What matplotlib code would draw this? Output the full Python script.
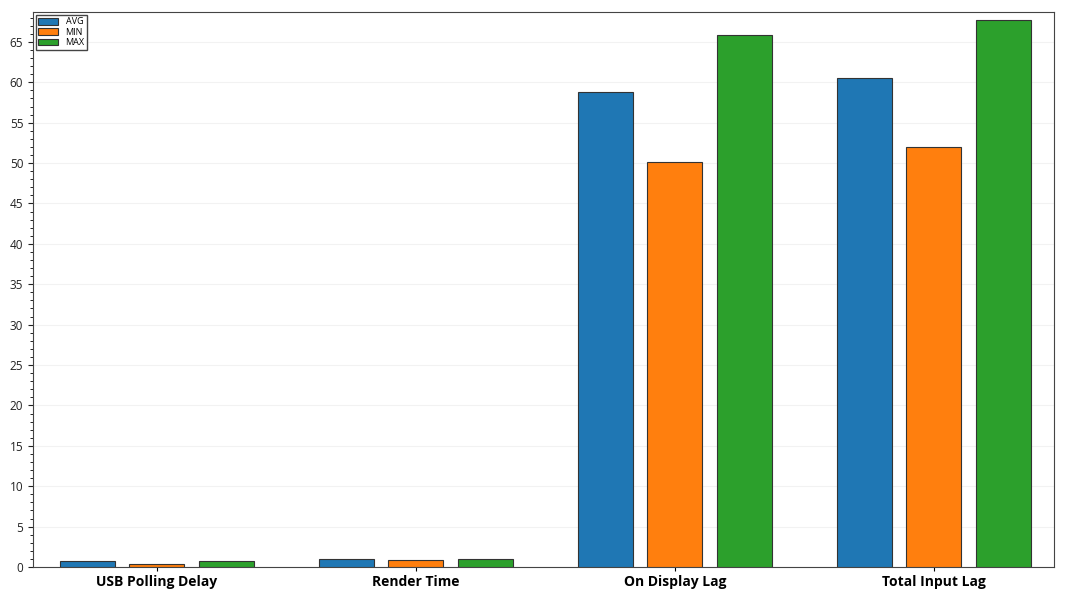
import numpy as np
import matplotlib
matplotlib.use("Agg")
import matplotlib.pyplot as plt
from matplotlib.ticker import MultipleLocator

plt.rcParams['font.family'] = ['Open Sans', 'DejaVu Sans']

categories = ["USB Polling Delay", "Render Time", "On Display Lag", "Total Input Lag"]
avg_vals = [0.75, 1.0, 58.8, 60.5]
min_vals = [0.35, 0.85, 50.1, 52.0]
max_vals = [0.75, 1.0, 65.9, 67.7]

fig = plt.figure(figsize=(10.66, 6.0), dpi=100)
ax = fig.add_axes([33/1066, 1 - 567/600, (1054-33)/1066, (567-12)/600])

x = np.arange(len(categories))
w = 0.212
off = 0.268
ax.bar(x - off, avg_vals, w, color="#1f77b4", edgecolor="#333333", linewidth=0.8, label="AVG", zorder=3)
ax.bar(x, min_vals, w, color="#ff7f0e", edgecolor="#333333", linewidth=0.8, label="MIN", zorder=3)
ax.bar(x + off, max_vals, w, color="#2ca02c", edgecolor="#333333", linewidth=0.8, label="MAX", zorder=3)

ax.set_xlim(-0.478, 3.464)
ax.set_ylim(0, 68.7)
ax.set_xticks(x)
ax.set_xticklabels(categories, fontsize=10, fontweight="bold")
ax.yaxis.set_major_locator(MultipleLocator(5))
ax.yaxis.set_minor_locator(MultipleLocator(1))
ax.tick_params(axis="y", labelsize=8.5, colors="#222222")
ax.tick_params(axis="x", length=3, pad=3)
ax.grid(axis="y", color="#f2f2f2", linewidth=0.8, zorder=0)
for s in ax.spines.values():
    s.set_color("#444444")

ax.legend(loc="upper left", fontsize=6.5, handlelength=2.2, handleheight=0.8,
          borderpad=0.3, labelspacing=0.15, fancybox=False, edgecolor="#444444",
          framealpha=1, borderaxespad=0.3)

fig.savefig("out.png", dpi=100)
